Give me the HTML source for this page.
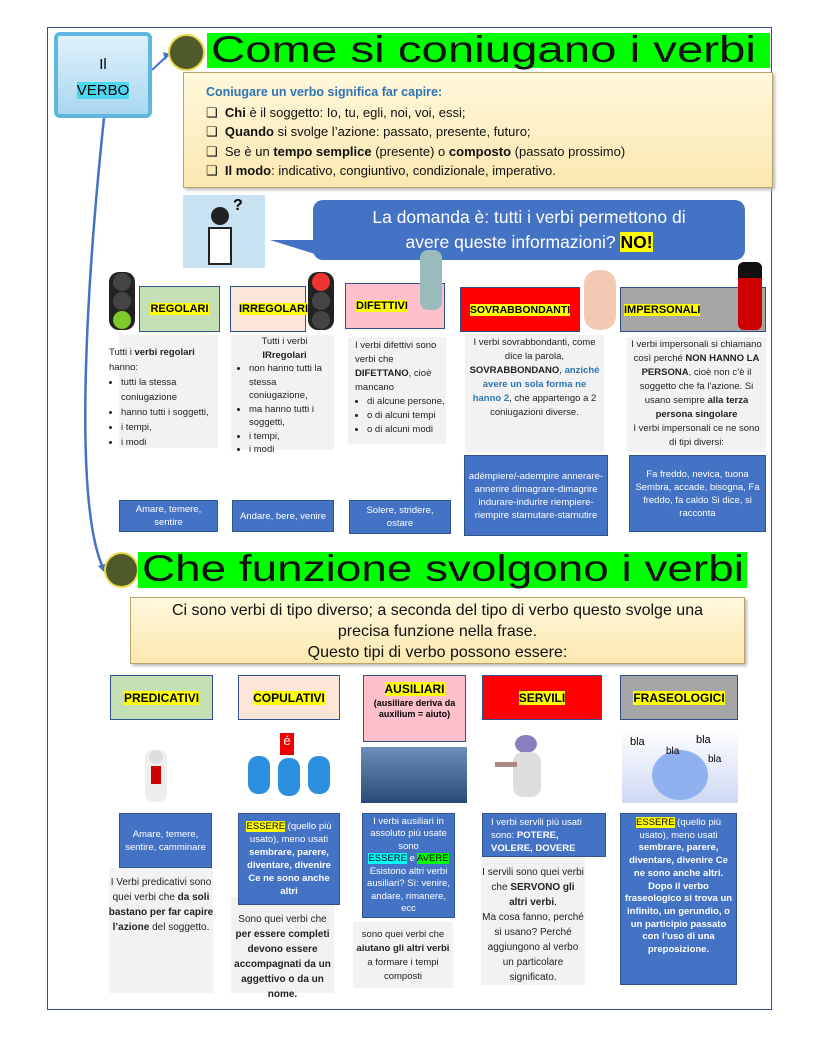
<!DOCTYPE html>
<html><head><meta charset="utf-8"><style>
*{margin:0;padding:0;box-sizing:border-box}
body{width:816px;height:1056px;background:#fff;position:relative;font-family:"Liberation Sans",sans-serif;overflow:hidden}
.a{position:absolute}
.hl{background:#ffff00}
.bl{background:#4472c4;color:#fff;border:1px solid #2f528f;font-size:9.5px;text-align:center;line-height:13px;display:flex;align-items:center;justify-content:center;padding:3px}
.gp{background:#f2f2f2;font-size:9.5px;line-height:13.5px;color:#222}
.hd{border:1px solid #2f528f;font-weight:bold;font-size:11px;display:flex;align-items:center;justify-content:center}
.circ{border-radius:50%;background:#4e5a2a;border:2px solid #e8d84a}
.title{background:#00ff00;font-size:37px;color:#111;line-height:33px;padding-left:4px;white-space:nowrap}
.title span{display:inline-block;transform-origin:0 50%}
.scroll{background:linear-gradient(#fff8dc,#fbe8b0);border:1px solid #b9a36b;box-shadow:2px 2px 3px #bbb}
ul{padding-left:12px}
.tl{background:#222;border-radius:10px;width:26px;height:58px}
.tl i{display:block;width:18px;height:18px;border-radius:50%;background:#444;margin:1px auto 0}
</style></head><body>
<div class="a" style="left:47px;top:27px;width:725px;height:983px;border:1px solid #2f5597"></div>

<div class="a" style="left:54px;top:32px;width:98px;height:86px;border:4px solid #5fb7e0;border-radius:6px;background:linear-gradient(#dff1fb,#a9d7f0);text-align:center;font-size:15px;padding-top:16px;line-height:26px">Il<br><span style="background:#4dd8f0">VERBO</span></div>
<svg class="a" style="left:0;top:0" width="816" height="1056"><path d="M152 70 L168 55" stroke="#4472c4" stroke-width="2" fill="none"/><path d="M163 52 L170 54 L165 60z" fill="#4472c4"/><path d="M104 118 C90 250 70 500 104 570" stroke="#4472c4" stroke-width="2.5" fill="none"/><path d="M98 566 L106 574 L108 563z" fill="#4472c4"/></svg>

<div class="a circ" style="left:168px;top:34px;width:37px;height:37px"></div>
<div class="a title" style="left:207px;top:33px;width:563px;height:35px"><span style="transform:scaleX(1.28)">Come si coniugano i verbi</span></div>
<div class="a scroll" style="left:183px;top:72px;width:590px;height:116px;padding:10px 0 0 22px;font-size:13px;line-height:19.5px;color:#111">
<div style="color:#2e75b6;font-weight:bold;font-size:12.5px">Coniugare un verbo significa far capire:</div>
<div>❑&nbsp;&nbsp;<b>Chi</b> è il soggetto: Io, tu, egli, noi, voi, essi;</div>
<div>❑&nbsp;&nbsp;<b>Quando</b> si svolge l’azione: passato, presente, futuro;</div>
<div>❑&nbsp;&nbsp;Se è un <b>tempo semplice</b> (presente) o <b>composto</b> (passato prossimo)</div>
<div>❑&nbsp;&nbsp;<b>Il modo</b>: indicativo, congiuntivo, condizionale, imperativo.</div>
</div>
<div class="a" style="left:183px;top:195px;width:82px;height:73px;background:#c9e3f3"><div class="a" style="left:28px;top:12px;width:18px;height:18px;border-radius:50%;background:#222"></div><div class="a" style="left:25px;top:32px;width:24px;height:38px;background:#fff;border:2px solid #222"></div><div class="a" style="left:50px;top:2px;font-size:16px;font-weight:bold">?</div></div>
<div class="a" style="left:313px;top:200px;width:432px;height:60px;background:#4472c4;border-radius:10px;color:#fff;font-size:17.5px;text-align:center;line-height:25px;padding-top:5px">La domanda è: tutti i verbi permettono di<br>avere queste informazioni? <b style="background:#ff0;color:#000">NO!</b></div>
<div class="a" style="left:270px;top:240px;width:0;height:0;border-right:45px solid #4472c4;border-bottom:14px solid transparent"></div>

<div class="a tl" style="left:109px;top:272px"><i></i><i></i><i style="background:#7ec82a"></i></div>
<div class="a hd" style="left:139px;top:286px;width:81px;height:46px;background:#c5e0b4"><span class="hl">REGOLARI</span></div>
<div class="a hd" style="left:230px;top:286px;width:76px;height:46px;background:#fbe5d6;justify-content:flex-start;padding-left:8px"><span class="hl">IRREGOLARI</span></div>
<div class="a tl" style="left:308px;top:272px"><i style="background:#e33"></i><i></i><i></i></div>
<div class="a hd" style="left:345px;top:283px;width:100px;height:46px;background:#ffc0cb;justify-content:flex-start;padding-left:10px"><span class="hl">DIFETTIVI</span></div>
<div class="a" style="left:420px;top:250px;width:22px;height:60px;background:#9bb;border-radius:8px"></div>
<div class="a hd" style="left:460px;top:287px;width:120px;height:45px;background:#ff0000"><span class="hl" style="font-size:10.5px">SOVRABBONDANTI</span></div>
<div class="a" style="left:584px;top:270px;width:32px;height:60px;background:#f3c9b4;border-radius:14px"></div>
<div class="a hd" style="left:620px;top:287px;width:146px;height:45px;background:#a6a6a6;justify-content:flex-start;padding-left:3px"><span class="hl">IMPERSONALI</span></div>
<div class="a" style="left:738px;top:262px;width:24px;height:68px;background:#c00;border-radius:6px"><div style="height:16px;background:#111;border-radius:6px 6px 0 0"></div></div>

<div class="a gp" style="left:119px;top:335px;width:99px;height:113px"></div>
<div class="a" style="left:109px;top:345px;width:115px;font-size:9.5px;line-height:15px;color:#222">Tutti i <b>verbi regolari</b> hanno:<ul><li>tutti la stessa coniugazione</li><li>hanno tutti i soggetti,</li><li>i tempi,</li><li>i modi</li></ul></div>
<div class="a gp" style="left:231px;top:335px;width:103px;height:115px;padding:0 2px 0 6px"><div style="text-align:center">Tutti i verbi<br><b>IRregolari</b></div><ul><li>non hanno tutti la stessa coniugazione,</li><li>ma hanno tutti i soggetti,</li><li>i tempi,</li><li>i modi</li></ul></div>
<div class="a gp" style="left:348px;top:337px;width:98px;height:107px;padding:2px 0 0 7px;line-height:14px">I verbi difettivi sono verbi che <b>DIFETTANO</b>, cioè mancano<ul><li>di alcune persone,</li><li>o di alcuni tempi</li><li>o di alcuni modi</li></ul></div>
<div class="a gp" style="left:465px;top:335px;width:139px;height:117px;text-align:center;padding:1px 4px;line-height:14px">I verbi sovrabbondanti, come dice la parola, <b>SOVRABBONDANO</b>, <b style="color:#2e75b6">anziché avere un sola forma ne hanno 2</b>, che appartengo a 2 coniugazioni diverse.</div>
<div class="a gp" style="left:627px;top:337px;width:139px;height:115px;text-align:center;padding:1px 3px;line-height:14px">I verbi impersonali si chiamano così perché <b>NON HANNO LA PERSONA</b>, cioè non c’è il soggetto che fa l’azione. Si usano sempre <b>alla terza persona singolare</b><br>I verbi impersonali ce ne sono di tipi diversi:</div>

<div class="a bl" style="left:119px;top:500px;width:99px;height:32px">Amare, temere, sentire</div>
<div class="a bl" style="left:232px;top:500px;width:102px;height:32px">Andare, bere, venire</div>
<div class="a bl" style="left:349px;top:500px;width:102px;height:34px">Solere, stridere, ostare</div>
<div class="a bl" style="left:464px;top:455px;width:144px;height:81px">adémpiere/-adempire annerare-annerire dimagrare-dimagrire indurare-indurire riempiere-riempire starnutare-starnutire</div>
<div class="a bl" style="left:629px;top:455px;width:137px;height:77px;align-items:flex-start;padding-top:12px">Fa freddo, nevica, tuona Sembra, accade, bisogna, Fa freddo, fa caldo Si dice, si racconta</div>

<div class="a circ" style="left:104px;top:552px;width:35px;height:36px"></div>
<div class="a title" style="left:138px;top:552px;width:609px;height:36px"><span style="transform:scaleX(1.24)">Che funzione svolgono i verbi</span></div>
<div class="a scroll" style="left:130px;top:597px;width:615px;height:67px;text-align:center;font-size:16px;line-height:21px;padding:2px 22px 0;color:#111">Ci sono verbi di tipo diverso; a seconda del tipo di verbo questo svolge una precisa funzione nella frase.<br>Questo tipi di verbo possono essere:</div>

<div class="a hd" style="left:110px;top:675px;width:103px;height:45px;background:#c5e0b4;font-size:12px"><span class="hl">PREDICATIVI</span></div>
<div class="a hd" style="left:238px;top:675px;width:102px;height:45px;background:#fbe5d6;font-size:12px"><span class="hl">COPULATIVI</span></div>
<div class="a hd" style="left:363px;top:675px;width:103px;height:67px;background:#ffc0cb;flex-direction:column;justify-content:flex-start;padding-top:6px;text-align:center;font-size:12px"><span class="hl">AUSILIARI</span><span style="font-size:9px;line-height:11px;margin-top:2px">(ausiliare deriva da auxilium = aiuto)</span></div>
<div class="a hd" style="left:482px;top:675px;width:120px;height:45px;background:#ff0000;font-size:12px"><span class="hl">SERVILI</span></div>
<div class="a hd" style="left:620px;top:675px;width:118px;height:45px;background:#a6a6a6;font-size:12px"><span class="hl">FRASEOLOGICI</span></div>

<div class="a" style="left:145px;top:750px;width:22px;height:52px;background:#eee;border-radius:8px"><div style="width:14px;height:14px;border-radius:50%;background:#ddd;margin:auto"></div><div style="width:10px;height:18px;background:#c00;margin:2px auto"></div></div>
<div class="a" style="left:240px;top:728px;width:100px;height:75px"><div class="a" style="left:40px;top:5px;width:14px;height:22px;background:#e00;color:#fff;font-size:13px;text-align:center">é</div><div class="a" style="left:8px;top:28px;width:22px;height:38px;background:#2d8fe0;border-radius:10px"></div><div class="a" style="left:38px;top:30px;width:22px;height:38px;background:#2d8fe0;border-radius:10px"></div><div class="a" style="left:68px;top:28px;width:22px;height:38px;background:#2d8fe0;border-radius:10px"></div></div>
<div class="a" style="left:361px;top:747px;width:106px;height:56px;background:linear-gradient(#6b8fb8,#284a78)"></div>
<div class="a" style="left:495px;top:730px;width:70px;height:75px"><div class="a" style="left:20px;top:5px;width:22px;height:18px;border-radius:50%;background:#8a7ec0"></div><div class="a" style="left:18px;top:22px;width:28px;height:45px;background:#ddd;border-radius:10px"></div><div class="a" style="left:0;top:32px;width:22px;height:5px;background:#a88"></div></div>
<div class="a" style="left:622px;top:728px;width:116px;height:75px;background:linear-gradient(#fff,#cfd9f5)"><div class="a" style="left:30px;top:22px;width:56px;height:50px;border-radius:50%;background:#8fb1f0"></div><div class="a" style="left:8px;top:8px;font-size:11px;background:#fff">bla</div><div class="a" style="left:74px;top:6px;font-size:11px">bla</div><div class="a" style="left:44px;top:18px;font-size:10px">bla</div><div class="a" style="left:86px;top:26px;font-size:10px">bla</div></div>

<div class="a gp" style="left:109px;top:868px;width:104px;height:125px"></div>
<div class="a bl" style="left:119px;top:813px;width:93px;height:55px">Amare, temere, sentire, camminare</div>
<div class="a" style="left:102px;top:875px;width:118px;text-align:center;font-size:10px;line-height:15px;color:#222">I Verbi predicativi sono quei verbi che <b>da soli bastano per far capire l’azione</b> del soggetto.</div>

<div class="a gp" style="left:231px;top:897px;width:103px;height:96px"></div>
<div class="a bl" style="left:238px;top:813px;width:102px;height:92px"><span><span style="background:#ff0;color:#000">ESSERE</span> (quello più usato), meno usati <b>sembrare, parere, diventare, divenire Ce ne sono anche altri</b></span></div>
<div class="a" style="left:231px;top:912px;width:103px;text-align:center;font-size:10px;line-height:15px;color:#222">Sono quei verbi che <b>per essere completi devono essere accompagnati da un aggettivo o da un nome.</b></div>

<div class="a gp" style="left:353px;top:922px;width:100px;height:66px;text-align:center;padding-top:6px;line-height:14px">sono quei verbi che <b>aiutano gli altri verbi</b> a formare i tempi composti</div>
<div class="a bl" style="left:362px;top:813px;width:93px;height:105px;line-height:12.5px"><span>I verbi ausiliari in assoluto più usate sono<br><span style="background:#00ffff;color:#000">ESSERE</span> e <span style="background:#00ff00;color:#000">AVERE</span><br>Esistono altri verbi ausiliari? Sì: venire, andare, rimanere, ecc</span></div>

<div class="a gp" style="left:481px;top:857px;width:104px;height:128px;text-align:center;padding-top:8px;font-size:10px;line-height:15px">I servili sono quei verbi che <b>SERVONO gli altri verbi</b>.<br>Ma cosa fanno, perché si usano? Perché aggiungono al verbo un particolare significato.</div>
<div class="a bl" style="left:482px;top:813px;width:124px;height:44px;text-align:left;justify-content:flex-start;padding-left:8px"><span>I verbi servili più usati sono: <b>POTERE, VOLERE, DOVERE</b></span></div>

<div class="a bl" style="left:620px;top:813px;width:117px;height:172px;align-items:flex-start;line-height:12.7px"><span><span style="background:#ff0;color:#000">ESSERE</span> (quello più usato), meno usati <b>sembrare, parere, diventare, divenire Ce ne sono anche altri.<br>Dopo il verbo fraseologico si trova un infinito, un gerundio, o un participio passato con l’uso di una preposizione.</b></span></div>
</body></html>
